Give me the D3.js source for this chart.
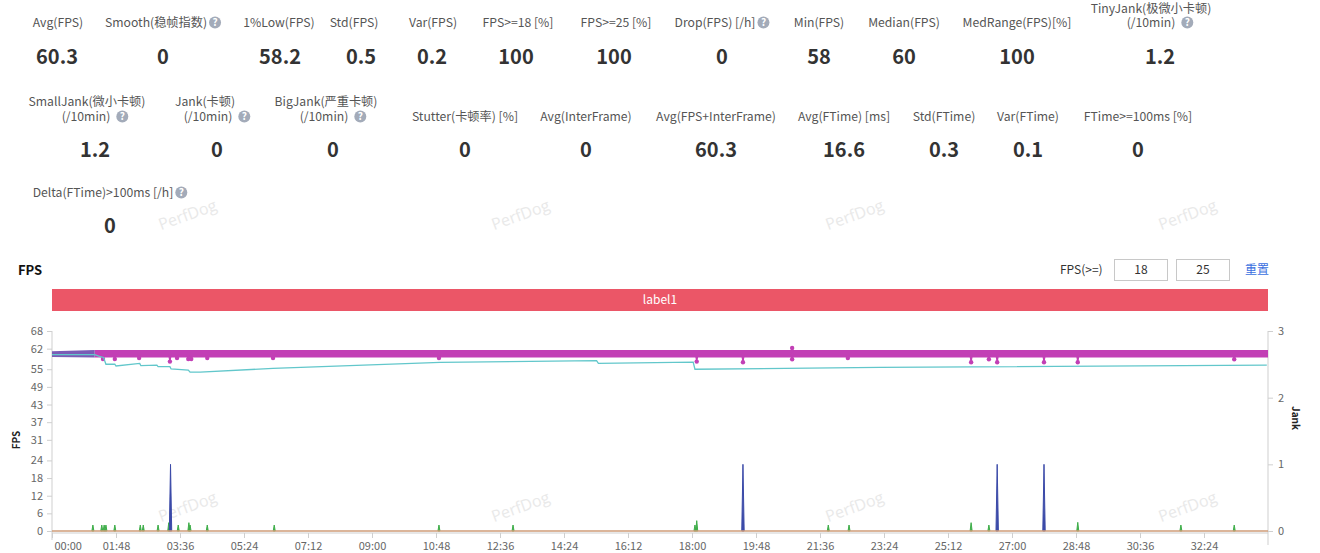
<!DOCTYPE html>
<html>
<head>
<meta charset="utf-8">
<script src="https://cdn.jsdelivr.net/npm/d3@7"></script>
<style>
body { margin: 0; background: #fff; }
svg { display: block; font-family: "Noto Sans CJK SC", "Noto Sans", sans-serif; }
</style>
</head>
<body>
<svg id="chart" width="1320" height="553"></svg>
<script>
// ---- summary numbers ----
var row1Labels = [["Avg(FPS)"], ["Smooth(稳帧指数)"], ["1%Low(FPS)"], ["Std(FPS)"], ["Var(FPS)"], ["FPS>=18 [%]"], ["FPS>=25 [%]"], ["Drop(FPS) [/h]"], ["Min(FPS)"], ["Median(FPS)"], ["MedRange(FPS)[%]"], ["TinyJank(极微小卡顿)", "(/10min)"]];
var row1Values = ["60.3", "0", "58.2", "0.5", "0.2", "100", "100", "0", "58", "60", "100", "1.2"];
var row1Help = [0, 1, 0, 0, 0, 0, 0, 1, 0, 0, 0, 1];
var row2Labels = [["SmallJank(微小卡顿)", "(/10min)"], ["Jank(卡顿)", "(/10min)"], ["BigJank(严重卡顿)", "(/10min)"], ["Stutter(卡顿率) [%]"], ["Avg(InterFrame)"], ["Avg(FPS+InterFrame)"], ["Avg(FTime) [ms]"], ["Std(FTime)"], ["Var(FTime)"], ["FTime>=100ms [%]"]];
var row2Values = ["1.2", "0", "0", "0", "0", "60.3", "16.6", "0.3", "0.1", "0"];
var row2Help = [1, 1, 1, 0, 0, 0, 0, 0, 0, 0];
var row3Labels = [["Delta(FTime)>100ms [/h]"]];
var row3Values = ["0"];
var row3Help = [1];

// ---- chart data (time in seconds) ----
var timeMax = 2052;
var xTickLabels = ["00:00", "01:48", "03:36", "05:24", "07:12", "09:00", "10:48", "12:36", "14:24", "16:12", "18:00", "19:48", "21:36", "23:24", "25:12", "27:00", "28:48", "30:36", "32:24"];
var fpsTicks = [0, 6, 12, 18, 24, 31, 37, 43, 49, 55, 62, 68];
var jankTicks = [0, 1, 2, 3];

// FPS oscillates inside this band the whole run
var fpsBandTimes = [0, 72, 2052];
var fpsBandLow = [59.2, 59.0, 59.0];
var fpsBandHigh = [61.1, 61.5, 61.5];
// single-frame drops below the band
var dipTimes = [86, 106, 147, 199, 211, 230, 235, 262, 373, 653, 1088, 1166, 1249, 1343, 1551, 1581, 1595, 1674, 1731, 1995];
var dipValues = [58.5, 58.5, 58.8, 57.6, 58.8, 58.5, 58.5, 58.8, 58.8, 58.8, 57.6, 57.4, 58.4, 58.8, 57.4, 58.4, 57.4, 57.4, 57.4, 58.4];
var peakTimes = [1249];
var peakValues = [62.2];

// cyan line
var lowTimes = [0, 72, 80, 87, 91, 106, 108, 148, 150, 177, 179, 199, 201, 230, 233, 250, 373, 655, 919, 922, 1082, 1085, 1397, 2050];
var lowValues = [60, 60, 59.4, 59.0, 56.7, 56.7, 56.1, 57.0, 56.2, 56.4, 55.9, 55.9, 55.1, 54.7, 54.0, 54.0, 55.3, 57.3, 57.9, 57.0, 57.4, 55.0, 55.6, 56.4];

// jank spikes (right axis)
var jankTimes = [200, 1166, 1595, 1674];
var jankValues = [1, 1, 1, 1];
var smallJankTimes = [69, 84, 88, 91, 106, 149, 154, 179, 197, 213, 231, 233, 262, 375, 653, 778, 1085, 1088, 1310, 1345, 1551, 1581, 1731, 1905, 1995];
var smallJankValues = [0.09, 0.09, 0.09, 0.09, 0.09, 0.09, 0.09, 0.09, 0.125, 0.09, 0.125, 0.09, 0.09, 0.09, 0.09, 0.09, 0.09, 0.155, 0.09, 0.09, 0.125, 0.09, 0.13, 0.09, 0.09];
var bigJankTimes = [0, 2052];
var bigJankValues = [0, 0];

// ---- layout ----
var statRows = [
    { labels: row1Labels, values: row1Values, help: row1Help, base: 27, valueBase: 64, lineGap: 14.5,
      labelX: [58, 163, 279, 354, 433, 518, 616, 722, 819, 904, 1017, 1151],
      valueX: [57, 163, 280, 361, 432, 516, 614, 722, 819, 904, 1017, 1160] },
    { labels: row2Labels, values: row2Values, help: row2Help, base: 121, valueBase: 157, lineGap: 15.5,
      labelX: [87, 205, 326, 465, 586, 716, 844, 944, 1028, 1138],
      valueX: [95, 217, 333, 465, 586, 716, 844, 944, 1028, 1138] },
    { labels: row3Labels, values: row3Values, help: row3Help, base: 197, valueBase: 233, lineGap: 15,
      labelX: [110], valueX: [110] }
];
var markX = [188, 521, 855, 1188];
var markY = [216, 508];

var colors = {
    fps: '#c23fb5',
    fpsEarly: '#7b5cb6',
    low: '#62c7cb',
    jank: '#3b4aa8',
    smallJank: '#3fae4a',
    bigJank: '#cf9d78',
    axis: '#cfcfcf',
    tick: '#666'
};

var svg = d3.select('#chart');
svg.append('rect').attr('width', 1320).attr('height', 553).attr('fill', '#fff');

// watermarks
markY.forEach(function (my) {
    markX.forEach(function (mx) {
        svg.append('text')
            .attr('transform', 'translate(' + mx + ',' + my + ') rotate(-20)')
            .attr('text-anchor', 'middle')
            .attr('dominant-baseline', 'middle')
            .style('font-family', '"Open Sans", sans-serif')
            .style('font-size', '16px')
            .attr('fill', '#e9e9e9')
            .text('PerfDog');
    });
});

function helpIcon(g, cx, cy) {
    g.append('circle').attr('cx', cx).attr('cy', cy).attr('r', 6).attr('fill', '#a3abb9');
    g.append('text').attr('x', cx).attr('y', cy + 3.5)
        .attr('text-anchor', 'middle')
        .style('font-size', '10px').style('font-weight', 'bold')
        .attr('fill', '#fff').text('?');
}

// summary blocks
statRows.forEach(function (row) {
    row.labels.forEach(function (lines, i) {
        var g = svg.append('g');
        var n = lines.length;
        lines.forEach(function (line, j) {
            var y = row.base - (n - 1 - j) * row.lineGap;
            var cx = (n > 1 && j === n - 1) ? row.valueX[i] : row.labelX[i];
            var t = g.append('text').attr('y', y)
                .style('font-size', '12.2px').attr('fill', '#555').text(line);
            if (row.help[i] && j === n - 1) {
                var w = t.node().getComputedTextLength();
                var gap = n > 1 ? 6 : 2;
                var x0 = cx - (w + gap + 12) / 2;
                t.attr('x', x0);
                helpIcon(g, x0 + w + gap + 6, y - 4.5);
            } else {
                t.attr('x', cx).attr('text-anchor', 'middle');
            }
        });
        g.append('text')
            .attr('x', row.valueX[i]).attr('y', row.valueBase)
            .attr('text-anchor', 'middle')
            .style('font-size', '20px').style('font-weight', 'bold')
            .attr('fill', '#333').text(row.values[i]);
    });
});

// ---- chart header ----
svg.append('text').attr('x', 18).attr('y', 275)
    .style('font-size', '13px').style('font-weight', 'bold').attr('fill', '#111').text('FPS');
svg.append('text').attr('x', 1060).attr('y', 274)
    .style('font-size', '12px').attr('fill', '#333').text('FPS(>=)');
[['18', 1114], ['25', 1176]].forEach(function (b) {
    svg.append('rect').attr('x', b[1] + 0.5).attr('y', 259.5).attr('width', 53).attr('height', 21)
        .attr('fill', '#fff').attr('stroke', '#c8c8c8');
    svg.append('text').attr('x', b[1] + 27).attr('y', 274).attr('text-anchor', 'middle')
        .style('font-size', '12px').attr('fill', '#333').text(b[0]);
});
svg.append('text').attr('x', 1245).attr('y', 274)
    .style('font-size', '12px').attr('fill', '#3a6fe0').text('重置');

var pLeft = 52, pRight = 1268, pTop = 331, pBottom = 531;
svg.append('rect').attr('x', pLeft).attr('y', 289).attr('width', pRight - pLeft).attr('height', 22)
    .attr('fill', '#eb5667');
svg.append('text').attr('x', (pLeft + pRight) / 2).attr('y', 304).attr('text-anchor', 'middle')
    .style('font-size', '12px').attr('fill', '#fff').text('label1');

// ---- scales ----
var x = d3.scaleLinear().domain([0, timeMax]).range([pLeft, pRight]);
var yF = d3.scaleLinear().domain([0, 68]).range([pBottom, pTop]);
var yJ = d3.scaleLinear().domain([0, 3]).range([pBottom, pTop]);

// axes
var axisL = svg.append('g').attr('transform', 'translate(' + pLeft + ',0)')
    .call(d3.axisLeft(yF).tickValues(fpsTicks).tickSize(5).tickSizeOuter(0).tickPadding(4));
var axisR = svg.append('g').attr('transform', 'translate(' + pRight + ',0)')
    .call(d3.axisRight(yJ).tickValues(jankTicks).tickFormat(d3.format('d'))
        .tickSize(5).tickSizeOuter(0).tickPadding(5));
var axisB = svg.append('g').attr('transform', 'translate(0,' + (pBottom + 2) + ')')
    .call(d3.axisBottom(x).tickValues(d3.range(0, timeMax, 108))
        .tickFormat(function (d, i) { return xTickLabels[i]; })
        .tickSize(5).tickSizeOuter(0).tickPadding(4));
[axisL, axisR, axisB].forEach(function (a) {
    a.select('.domain').remove();
    a.selectAll('line').attr('stroke', colors.axis);
    a.selectAll('text').attr('fill', colors.tick)
        .style('font-family', '"Noto Sans CJK SC", sans-serif').style('font-size', '11px');
});
axisB.select('.tick text').attr('text-anchor', 'start').attr('dx', 2);
svg.append('line').attr('x1', pLeft).attr('x2', pLeft).attr('y1', pTop).attr('y2', 540).attr('stroke', colors.axis);
svg.append('line').attr('x1', pRight).attr('x2', pRight).attr('y1', pTop).attr('y2', 545).attr('stroke', colors.axis);
svg.append('line').attr('x1', pLeft).attr('x2', pRight).attr('y1', pBottom + 2).attr('y2', pBottom + 2).attr('stroke', colors.axis);

svg.append('text').attr('transform', 'translate(20,440) rotate(-90)').attr('text-anchor', 'middle')
    .style('font-size', '10px').style('font-weight', 'bold').attr('fill', '#222').text('FPS');
svg.append('text').attr('transform', 'translate(1292,418) rotate(90)').attr('text-anchor', 'middle')
    .style('font-size', '10px').style('font-weight', 'bold').attr('fill', '#222').text('Jank');

// ---- series ----
var plot = svg.append('g');

// small jank spikes
smallJankTimes.forEach(function (t, i) {
    var cx = x(t);
    plot.append('path')
        .attr('d', 'M' + (cx - 1) + ',' + yJ(0) + 'L' + cx + ',' + yJ(smallJankValues[i]) + 'L' + (cx + 1) + ',' + yJ(0) + 'Z')
        .attr('fill', colors.smallJank).attr('stroke', colors.smallJank).attr('stroke-width', 1);
});
// jank spikes
jankTimes.forEach(function (t, i) {
    var cx = x(t);
    plot.append('path')
        .attr('d', 'M' + (cx - 1.2) + ',' + yJ(0) + 'L' + cx + ',' + yJ(jankValues[i]) + 'L' + (cx + 1.2) + ',' + yJ(0) + 'Z')
        .attr('fill', colors.jank).attr('stroke', colors.jank).attr('stroke-width', 1);
});
// big jank baseline
plot.append('path')
    .datum(bigJankTimes.map(function (t, i) { return [t, bigJankValues[i]]; }))
    .attr('d', d3.line().x(function (d) { return x(d[0]); }).y(function (d) { return yJ(d[1]); }))
    .attr('fill', 'none').attr('stroke', colors.bigJank).attr('stroke-width', 1.5);

// FPS band
var band = fpsBandTimes.map(function (t, i) { return [t, fpsBandLow[i], fpsBandHigh[i]]; });
var bandArea = d3.area()
    .x(function (d) { return x(d[0]); })
    .y0(function (d) { return yF(d[1]); })
    .y1(function (d) { return yF(d[2]); });
plot.append('path').datum(band.slice(1)).attr('d', bandArea).attr('fill', colors.fps);
plot.append('path').datum(band.slice(0, 2)).attr('d', bandArea).attr('fill', colors.fpsEarly);

// drops and peaks
function stem(t, v, base) {
    var cx = x(t);
    plot.append('path')
        .attr('d', 'M' + (cx - 1.2) + ',' + yF(base) + 'L' + cx + ',' + yF(v) + 'L' + (cx + 1.2) + ',' + yF(base) + 'Z')
        .attr('fill', colors.fps).attr('stroke', colors.fps).attr('stroke-width', 1.2);
    plot.append('circle').attr('cx', cx).attr('cy', yF(v)).attr('r', 2.2).attr('fill', colors.fps);
}
dipTimes.forEach(function (t, i) { stem(t, dipValues[i], 60); });
peakTimes.forEach(function (t, i) { stem(t, peakValues[i], 60); });

// cyan line
plot.append('path')
    .datum(lowTimes.map(function (t, i) { return [t, lowValues[i]]; }))
    .attr('d', d3.line().x(function (d) { return x(d[0]); }).y(function (d) { return yF(d[1]); }))
    .attr('fill', 'none').attr('stroke', colors.low).attr('stroke-width', 1.3);
</script>
</body>
</html>
